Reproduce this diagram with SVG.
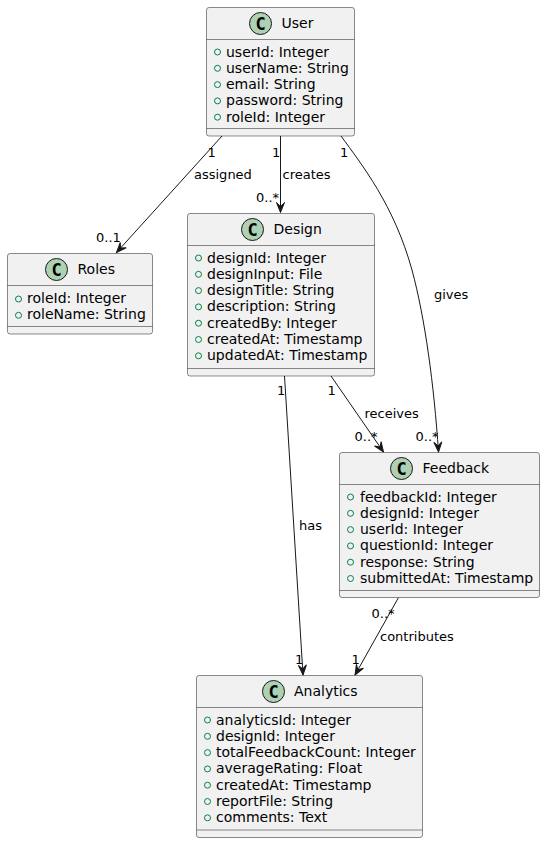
<svg xmlns="http://www.w3.org/2000/svg" width="545" height="843" viewBox="0 0 545 843">
<style>
text{font-family:"DejaVu Sans",sans-serif;fill:#000}
.t{font-size:14px}
.a{font-size:14px}
.l{font-size:13px}
.box{fill:#F1F1F1;stroke:#181818;stroke-width:.5}
.div{stroke:#181818;stroke-width:.5;fill:none}
.ci{fill:#ADD1B2;stroke:#181818;stroke-width:1}
.c{font-family:"DejaVu Sans Mono",monospace;font-size:17px;font-weight:bold;text-anchor:middle}
.v{fill:none;stroke:#038048;stroke-width:1}
.e{fill:none;stroke:#181818;stroke-width:1;marker-end:url(#h)}
</style>
<defs>
<marker id="h" markerUnits="userSpaceOnUse" markerWidth="14" markerHeight="12" refX="12" refY="6" orient="auto" overflow="visible">
<path d="M12,6 L2,2 L6,6 L2,10 Z" fill="#181818" stroke="#181818" stroke-width="1"/>
</marker>
</defs>
<g id="connectors">
<path class="e" d="M222,136 L116.5,252.5"/>
<path class="e" d="M280.5,136 L280.5,212.5"/>
<path class="e" d="M341,136 C362,165 394,205 412,270 C425,318 434,385 438.5,452"/>
<path class="e" d="M284.5,376 L303,675"/>
<path class="e" d="M331,376 L383.5,452"/>
<path class="e" d="M398.5,597.5 L355,675"/>
<text class="l" x="207.5" y="156.7">1</text>
<text class="l" x="194" y="179">assigned</text>
<text class="l" x="96" y="241.7">0..1</text>
<text class="l" x="272" y="156.7">1</text>
<text class="l" x="282.5" y="179">creates</text>
<text class="l" x="256" y="201.7">0..*</text>
<text class="l" x="340" y="156.7">1</text>
<text class="l" x="434" y="299">gives</text>
<text class="l" x="415.5" y="441">0..*</text>
<text class="l" x="277" y="395">1</text>
<text class="l" x="299" y="530">has</text>
<text class="l" x="295" y="664">1</text>
<text class="l" x="327.5" y="395">1</text>
<text class="l" x="364.5" y="418">receives</text>
<text class="l" x="354.5" y="441">0..*</text>
<text class="l" x="371.5" y="617.7">0..*</text>
<text class="l" x="380" y="640.7">contributes</text>
<text class="l" x="351.5" y="664">1</text>
</g>
<g id="User">
<rect class="box" x="206.5" y="7.5" width="148" height="128.5" rx="2.5"/>
<path class="div" d="M206.5,39.5H354.5M206.5,128.5H354.5"/>
<circle class="ci" cx="260.5" cy="23.5" r="11"/><text class="c" x="260.5" y="29.5">C</text>
<text class="t" x="281.5" y="28">User</text>
<g class="v"><circle cx="217.5" cy="52" r="3"/><circle cx="217.5" cy="68.3" r="3"/><circle cx="217.5" cy="84.6" r="3"/><circle cx="217.5" cy="100.9" r="3"/><circle cx="217.5" cy="117.2" r="3"/></g>
<text class="a" x="226" y="56.5">userId: Integer</text>
<text class="a" x="226" y="72.8">userName: String</text>
<text class="a" x="226" y="89.1">email: String</text>
<text class="a" x="226" y="105.4">password: String</text>
<text class="a" x="226" y="121.7">roleId: Integer</text>
</g>
<g id="Roles">
<rect class="box" x="7.5" y="253.5" width="145" height="80.5" rx="2.5"/>
<path class="div" d="M7.5,285.5H152.5M7.5,326.5H152.5"/>
<circle class="ci" cx="56.5" cy="269.5" r="11"/><text class="c" x="56.5" y="275.5">C</text>
<text class="t" x="77.5" y="274">Roles</text>
<g class="v"><circle cx="18.5" cy="299" r="3"/><circle cx="18.5" cy="315.3" r="3"/></g>
<text class="a" x="27" y="302.5">roleId: Integer</text>
<text class="a" x="27" y="318.8">roleName: String</text>
</g>
<g id="Design">
<rect class="box" x="187.5" y="213.5" width="187" height="162.5" rx="2.5"/>
<path class="div" d="M187.5,245.5H374.5M187.5,368.5H374.5"/>
<circle class="ci" cx="252.5" cy="229.5" r="11"/><text class="c" x="252.5" y="235.5">C</text>
<text class="t" x="273.5" y="234">Design</text>
<g class="v"><circle cx="198.5" cy="258" r="3"/><circle cx="198.5" cy="274.3" r="3"/><circle cx="198.5" cy="290.6" r="3"/><circle cx="198.5" cy="306.9" r="3"/><circle cx="198.5" cy="323.2" r="3"/><circle cx="198.5" cy="339.5" r="3"/><circle cx="198.5" cy="355.8" r="3"/></g>
<text class="a" x="207" y="262.5">designId: Integer</text>
<text class="a" x="207" y="278.8">designInput: File</text>
<text class="a" x="207" y="295.1">designTitle: String</text>
<text class="a" x="207" y="311.4">description: String</text>
<text class="a" x="207" y="327.7">createdBy: Integer</text>
<text class="a" x="207" y="344">createdAt: Timestamp</text>
<text class="a" x="207" y="360.3">updatedAt: Timestamp</text>
</g>
<g id="Feedback">
<rect class="box" x="339.5" y="452.5" width="200" height="145" rx="2.5"/>
<path class="div" d="M339.5,484.5H539.5M339.5,590.5H539.5"/>
<circle class="ci" cx="401.5" cy="468.5" r="11"/><text class="c" x="401.5" y="474.5">C</text>
<text class="t" x="422.5" y="473">Feedback</text>
<g class="v"><circle cx="350.5" cy="497" r="3"/><circle cx="350.5" cy="513.3" r="3"/><circle cx="350.5" cy="529.6" r="3"/><circle cx="350.5" cy="545.9" r="3"/><circle cx="350.5" cy="562.2" r="3"/><circle cx="350.5" cy="578.5" r="3"/></g>
<text class="a" x="360" y="501.5">feedbackId: Integer</text>
<text class="a" x="360" y="517.8">designId: Integer</text>
<text class="a" x="360" y="534.1">userId: Integer</text>
<text class="a" x="360" y="550.4">questionId: Integer</text>
<text class="a" x="360" y="566.7">response: String</text>
<text class="a" x="360" y="583">submittedAt: Timestamp</text>
</g>
<g id="Analytics">
<rect class="box" x="196.5" y="675.5" width="226" height="162" rx="2.5"/>
<path class="div" d="M196.5,707.5H422.5M196.5,830H422.5"/>
<circle class="ci" cx="273.5" cy="691.5" r="11"/><text class="c" x="273.5" y="697.5">C</text>
<text class="t" x="294" y="696">Analytics</text>
<g class="v"><circle cx="207.5" cy="720" r="3"/><circle cx="207.5" cy="736.3" r="3"/><circle cx="207.5" cy="752.6" r="3"/><circle cx="207.5" cy="768.9" r="3"/><circle cx="207.5" cy="785.2" r="3"/><circle cx="207.5" cy="801.5" r="3"/><circle cx="207.5" cy="817.8" r="3"/></g>
<text class="a" x="216" y="724.5">analyticsId: Integer</text>
<text class="a" x="216" y="740.8">designId: Integer</text>
<text class="a" x="216" y="757.1">totalFeedbackCount: Integer</text>
<text class="a" x="216" y="773.4">averageRating: Float</text>
<text class="a" x="216" y="789.7">createdAt: Timestamp</text>
<text class="a" x="216" y="806">reportFile: String</text>
<text class="a" x="216" y="822.3">comments: Text</text>
</g>
</svg>
